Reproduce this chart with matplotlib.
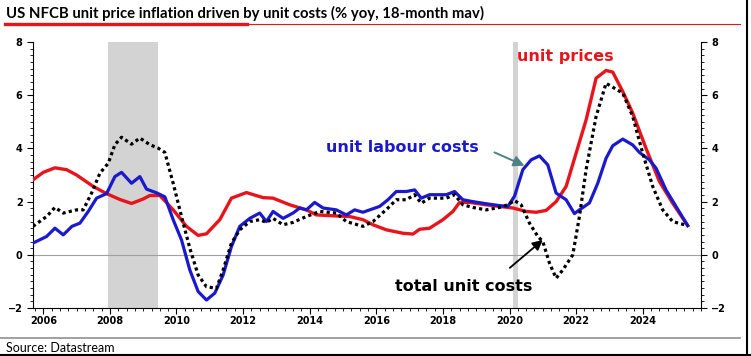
import matplotlib
matplotlib.use("Agg")
import matplotlib.pyplot as plt
from matplotlib.ticker import MultipleLocator
from matplotlib.lines import Line2D

# unit prices (red)
price_t = [2005.69, 2006.0, 2006.35, 2006.7, 2007.0, 2007.5, 2007.9, 2008.3, 2008.65, 2009.0,
           2009.2, 2009.5, 2009.9, 2010.3, 2010.65, 2010.9, 2011.3, 2011.65, 2012.1, 2012.6,
           2012.9, 2013.4, 2013.9, 2014.2, 2014.8, 2015.2, 2015.6, 2015.9, 2016.3, 2016.8,
           2017.1, 2017.3, 2017.6, 2018.0, 2018.3, 2018.5, 2018.8, 2019.3, 2019.7, 2020.1,
           2020.5, 2020.8, 2021.1, 2021.4, 2021.7, 2022.0, 2022.3, 2022.6, 2022.9, 2023.1,
           2023.4, 2023.7, 2024.1, 2024.5, 2024.9, 2025.35]
price_v = [2.82, 3.1, 3.27, 3.2, 3.0, 2.57, 2.3, 2.08, 1.93, 2.1,
           2.23, 2.23, 1.69, 1.07, 0.73, 0.79, 1.32, 2.13, 2.34, 2.15,
           2.13, 1.88, 1.69, 1.5, 1.46, 1.44, 1.32, 1.13, 0.94, 0.81,
           0.78, 0.96, 1.0, 1.32, 1.63, 1.97, 1.97, 1.88, 1.82, 1.76,
           1.63, 1.6, 1.67, 2.0, 2.57, 3.82, 5.07, 6.64, 6.93, 6.87,
           6.14, 5.33, 4.0, 2.76, 1.94, 1.1]

# unit labour costs (blue)
ulc_t = [2005.69, 2006.1, 2006.35, 2006.6, 2006.86, 2007.1, 2007.35, 2007.6, 2007.9, 2008.15,
         2008.35, 2008.65, 2008.9, 2009.1, 2009.4, 2009.65, 2009.9, 2010.15, 2010.4, 2010.65,
         2010.9, 2011.15, 2011.4, 2011.65, 2011.9, 2012.2, 2012.5, 2012.7, 2012.9, 2013.2,
         2013.5, 2013.7, 2013.9, 2014.15, 2014.4, 2014.8, 2015.1, 2015.35, 2015.6, 2016.1,
         2016.35, 2016.6, 2016.9, 2017.15, 2017.35, 2017.6, 2018.1, 2018.35, 2018.6, 2018.9,
         2019.3, 2019.7, 2019.95, 2020.15, 2020.4, 2020.65, 2020.9, 2021.15, 2021.4, 2021.7,
         2021.95, 2022.1, 2022.4, 2022.65, 2022.9, 2023.1, 2023.4, 2023.7, 2023.9, 2024.2,
         2024.4, 2024.7, 2025.0, 2025.35]
ulc_v = [0.44, 0.69, 1.0, 0.75, 1.07, 1.19, 1.63, 2.13, 2.3, 2.94,
         3.1, 2.69, 2.94, 2.47, 2.33, 2.18, 1.32, 0.56, -0.57, -1.38,
         -1.7, -1.44, -0.76, 0.31, 1.07, 1.37, 1.57, 1.25, 1.63, 1.37,
         1.57, 1.76, 1.69, 1.97, 1.76, 1.69, 1.5, 1.69, 1.6, 1.82,
         2.07, 2.38, 2.38, 2.44, 2.13, 2.26, 2.26, 2.38, 2.07, 2.0,
         1.92, 1.85, 1.82, 2.2, 3.2, 3.57, 3.72, 3.38, 2.32, 2.07,
         1.55, 1.69, 1.95, 2.69, 3.63, 4.1, 4.35, 4.13, 3.85, 3.57,
         3.26, 2.44, 1.82, 1.1]

# total unit costs (black dotted)
tuc_t = [2005.69, 2006.1, 2006.35, 2006.6, 2007.0, 2007.2, 2007.45, 2007.7, 2007.95, 2008.15,
         2008.35, 2008.65, 2008.9, 2009.2, 2009.45, 2009.65, 2009.9, 2010.15, 2010.4, 2010.65,
         2010.9, 2011.2, 2011.4, 2011.65, 2011.9, 2012.2, 2012.5, 2012.7, 2012.9, 2013.2,
         2013.5, 2013.9, 2014.3, 2014.8, 2015.1, 2015.6, 2015.9, 2016.35, 2016.6, 2016.9,
         2017.15, 2017.35, 2017.6, 2018.1, 2018.35, 2018.6, 2018.9, 2019.3, 2019.7, 2019.95,
         2020.15, 2020.35, 2020.6, 2020.85, 2021.0, 2021.2, 2021.4, 2021.6, 2021.9, 2022.1,
         2022.3, 2022.6, 2022.9, 2023.1, 2023.4, 2023.7, 2024.0, 2024.3, 2024.6, 2024.9,
         2025.35]
tuc_v = [1.07, 1.44, 1.78, 1.57, 1.69, 1.69, 2.32, 3.07, 3.44, 4.14,
         4.42, 4.16, 4.39, 4.14, 4.01, 3.85, 2.69, 1.44, 0.25, -0.76,
         -1.2, -1.26, -0.57, 0.44, 0.94, 1.25, 1.32, 1.22, 1.37, 1.13,
         1.22, 1.44, 1.63, 1.57, 1.25, 1.07, 1.25, 1.76, 2.07, 2.07,
         2.26, 1.94, 2.13, 2.13, 2.26, 1.88, 1.78, 1.69, 1.78, 1.88,
         2.04, 1.88, 1.19, 0.69, 0.5, -0.31, -0.88, -0.57, 0.0, 1.44,
         3.2, 5.2, 6.45, 6.3, 6.08, 5.2, 3.82, 2.57, 1.69, 1.25,
         1.1]

recessions = [(2007.94, 2009.45), (2020.1, 2020.25)]
year_ticks = list(range(2006, 2025, 2))

fig = plt.figure(figsize=(7.51, 3.56), dpi=100)
ax = fig.add_axes([0.0439, 0.1348, 0.8895, 0.7472])

for start, end in recessions:
    ax.axvspan(start, end, color="#d3d3d3", lw=0, zorder=0)
ax.axhline(0, color="#a0a0a0", lw=0.8, zorder=1)

ax.plot(price_t, price_v, color="#e8141c", lw=2.4, zorder=3)
ax.plot(ulc_t, ulc_v, color="#1a1acc", lw=2.3, zorder=4)
ax.plot(tuc_t, tuc_v, color="black", lw=2.3, ls=(0, (1, 1)), zorder=5)

ax.set_xlim(2005.69, 2025.75)
ax.set_ylim(-2, 8)
ax.spines["top"].set_visible(False)
ax.xaxis.set_minor_locator(MultipleLocator(0.25))
ax.set_xticks(year_ticks)
ax.set_xticklabels([str(y) for y in year_ticks])
ax.yaxis.set_major_locator(MultipleLocator(2))
ax.yaxis.set_minor_locator(MultipleLocator(0.25))
ax.tick_params(axis="both", which="major", length=4, width=0.8, labelsize=7)
ax.tick_params(axis="both", which="minor", length=2, width=0.6)
ax.tick_params(axis="y", labelleft=True, labelright=True, right=True, which="both")
ax.tick_params(axis="x", pad=1.5)
for lab in ax.get_xticklabels() + ax.get_yticklabels():
    lab.set_fontweight("bold")
for tk in ax.yaxis.get_major_ticks():
    tk.label2.set_fontweight("bold")
    tk.label2.set_fontsize(7)

ax.text(2020.22, 7.44, "unit prices", color="#e8141c", fontsize=11.5,
        fontweight="bold", va="center", ha="left")
ax.text(2014.5, 4.02, "unit labour costs", color="#1a1acc", fontsize=11.5,
        fontweight="bold", va="center", ha="left")
ax.annotate("", xy=(2020.45, 3.35), xytext=(2019.55, 3.85),
            arrowprops=dict(arrowstyle="-|>", color="#4f8088", lw=1.4,
                            mutation_scale=16, shrinkA=0, shrinkB=0))
ax.text(2016.56, -1.2, "total unit costs", color="black", fontsize=11.5,
        fontweight="bold", va="center", ha="left")
ax.annotate("", xy=(2021.0, 0.56), xytext=(2020.01, -0.49),
            arrowprops=dict(arrowstyle="-|>", color="black", lw=1.3,
                            mutation_scale=15, shrinkA=0, shrinkB=0))

fig.text(0.008, 0.962, "US NFCB unit price inflation driven by unit costs (% yoy, 18-month mav)",
         fontsize=10.7, fontweight="bold", family="Lato", va="center", ha="left")
fig.add_artist(Line2D([5 / 751, 740 / 751], [0.9326, 0.9326], color="#e8141c", lw=0.8))
fig.add_artist(Line2D([5 / 751, 247 / 751], [0.9326, 0.9326], color="#e8141c", lw=2.4))
fig.add_artist(Line2D([0, 740 / 751], [0.0506, 0.0506], color="#909090", lw=1.2))
fig.text(0.008, 0.022, "Source: Datastream", fontsize=9, family="Lato", va="center", ha="left")
fig.add_artist(Line2D([747 / 751, 747 / 751], [0, 1], color="black", lw=1.5))
fig.add_artist(Line2D([0, 1], [0.002, 0.002], color="black", lw=1.5))

fig.savefig("out.png", dpi=100)
